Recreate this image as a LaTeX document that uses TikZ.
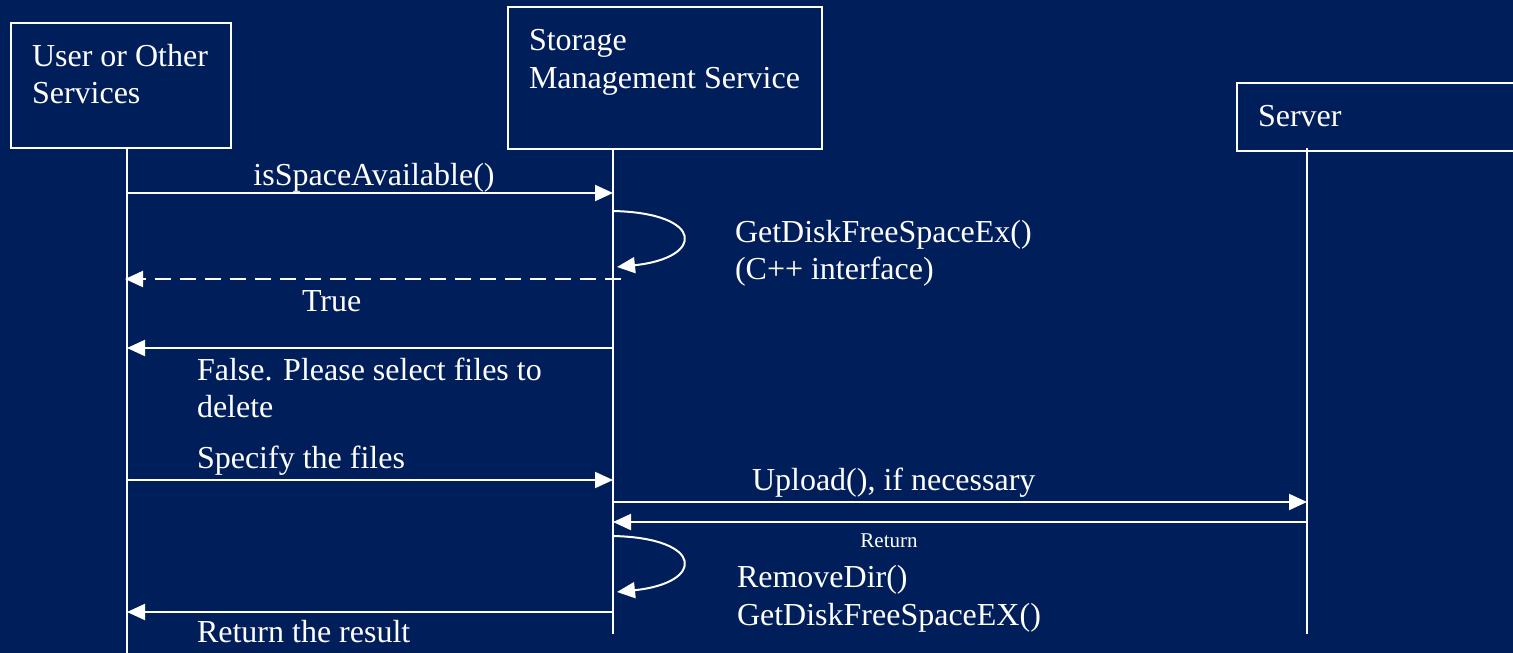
\documentclass[tikz,border=0pt]{standalone}
\usepackage{fontspec}
\setmainfont{Liberation Serif}
\usetikzlibrary{arrows.meta}
\definecolor{navy}{RGB}{0,30,90}
\begin{document}
\begin{tikzpicture}[x=1pt,y=-1pt,
  every node/.style={inner sep=0pt, outer sep=0pt, text=white},
  actor/.style={draw=white, line width=2pt, anchor=north west},
  lifeline/.style={draw=white, line width=2pt},
  msg/.style={draw=white, line width=2pt, -{Triangle[length=18pt,width=16pt]}},
  reply/.style={msg, dash pattern=on 16pt off 9pt},
  lbl/.style={font=\fontsize{32pt}{37pt}\selectfont, anchor=base west},
  small/.style={font=\fontsize{21pt}{25pt}\selectfont, anchor=base}]
\useasboundingbox (0,0) rectangle (1513,653);
\fill[navy] (0,0) rectangle (1513,653);

% participants
\node[actor, minimum width=220pt, minimum height=125pt] (user) at (11,23) {};
\node[lbl] (userA) at (32,66) {User or Other};
\node[lbl] (userB) at (32,103) {Services};

\node[actor, minimum width=314pt, minimum height=142pt] (sms) at (508,7) {};
\node[lbl] (smsA) at (529,50) {Storage};
\node[lbl] (smsB) at (529,88) {Management Service};

\node[actor, minimum width=300pt, minimum height=68pt] (server) at (1237,83) {};
\node[lbl] (serverA) at (1258,126) {Server};

% lifelines
\coordinate (uTop) at (127,149);  \coordinate (uBot) at (127,660);
\coordinate (sTop) at (613,149);  \coordinate (sBot) at (613,634);
\coordinate (vTop) at (1307,148); \coordinate (vBot) at (1307,634);
\draw[lifeline] (uTop) -- (uBot);
\draw[lifeline] (sTop) -- (sBot);
\draw[lifeline] (vTop) -- (vBot);

% isSpaceAvailable()
\coordinate (m1a) at (127,193); \coordinate (m1b) at (613,193);
\draw[msg] (m1a) -- (m1b);
\node[lbl, anchor=base] (m1t) at (374,185) {isSpaceAvailable()};

% self call: GetDiskFreeSpaceEx()
\coordinate (l1a) at (613,211); \coordinate (l1b) at (617,267);
\draw[msg] (l1a) .. controls (705,213) and (705,258) .. (l1b);
\node[lbl] (l1t) at (735,242) {GetDiskFreeSpaceEx()};
\node[lbl] (l1u) at (735,279) {(C++ interface)};

% True (dashed reply)
\coordinate (m2a) at (621,279); \coordinate (m2b) at (125,279);
\draw[reply] (m2a) -- (m2b);
\node[lbl] (m2t) at (302,311) {True};

% False reply
\coordinate (m3a) at (613,348); \coordinate (m3b) at (127,348);
\draw[msg] (m3a) -- (m3b);
\node[lbl] (m3t) at (197,380) {False. Please select files to};
\node[lbl] (m3u) at (197,417) {delete};

% Specify the files
\coordinate (m4a) at (127,480); \coordinate (m4b) at (613,480);
\draw[msg] (m4a) -- (m4b);
\node[lbl] (m4t) at (197,468) {Specify the files};

% Upload(), if necessary
\coordinate (m5a) at (613,502); \coordinate (m5b) at (1307,502);
\draw[msg] (m5a) -- (m5b);
\node[lbl] (m5t) at (752,490) {Upload(), if necessary};

% Return from server
\coordinate (m6a) at (1307,522); \coordinate (m6b) at (613,522);
\draw[msg] (m6a) -- (m6b);
\node[small] (m6t) at (889,547) {Return};

% self call: RemoveDir(), GetDiskFreeSpaceEX()
\coordinate (l2a) at (613,536); \coordinate (l2b) at (617,592);
\draw[msg] (l2a) .. controls (705,538) and (705,583) .. (l2b);
\node[lbl] (l2t) at (737,587) {RemoveDir()};
\node[lbl] (l2u) at (737,625) {GetDiskFreeSpaceEX()};

% Return the result
\coordinate (m7a) at (613,612); \coordinate (m7b) at (127,612);
\draw[msg] (m7a) -- (m7b);
\node[lbl] (m7t) at (197,642) {Return the result};
\end{tikzpicture}
\end{document}
